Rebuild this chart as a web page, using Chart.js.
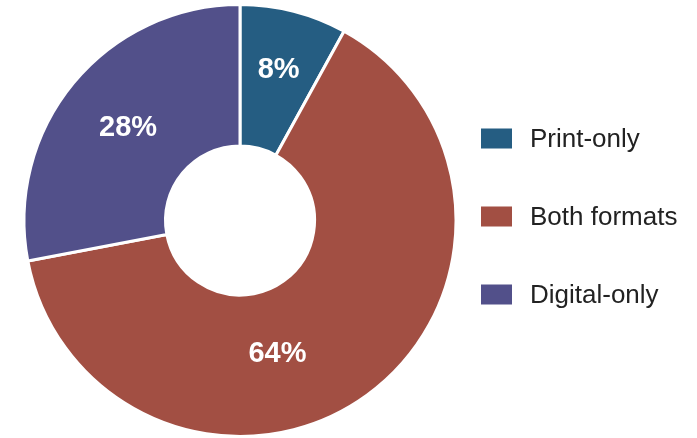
<!DOCTYPE html>
<html>
<head>
<meta charset="utf-8">
<script src="https://cdn.jsdelivr.net/npm/chart.js@4/dist/chart.umd.min.js"></script>
<style>
    html, body { margin: 0; padding: 0; background: #fff; }
    #wrap { width: 697px; height: 438px; }
</style>
</head>
<body>
<div id="wrap"><canvas id="donut"></canvas></div>
<script>
const categories = ['Print-only', 'Both formats', 'Digital-only'];
const shares = [8, 64, 28];
const sliceColors = ['#255d82', '#a24f43', '#52508a'];

const FONT = '"Liberation Sans", Arial, sans-serif';

// white percentage text on each ring segment
const sliceLabels = {
    id: 'sliceLabels',
    afterDatasetsDraw(chart, args, opts) {
        const ctx = chart.ctx;
        const meta = chart.getDatasetMeta(0);
        ctx.save();
        ctx.fillStyle = '#fff';
        ctx.font = 'bold 29px ' + FONT;
        ctx.textAlign = 'center';
        ctx.textBaseline = 'middle';
        meta.data.forEach((arc, i) => {
            const p = arc.getProps(['x', 'y', 'startAngle', 'endAngle', 'innerRadius', 'outerRadius'], true);
            const f = opts.along[i];
            const a = p.startAngle + (p.endAngle - p.startAngle) * f;
            const r = p.innerRadius + (p.outerRadius - p.innerRadius) * opts.radial[i];
            ctx.fillText(shares[i] + '%', p.x + Math.cos(a) * r, p.y + Math.sin(a) * r);
        });
        ctx.restore();
    }
};

// legend to the right of the ring; chart.js ties row gap to padding, so drawn here
const sideLegend = {
    id: 'sideLegend',
    afterDraw(chart, args, opts) {
        const ctx = chart.ctx;
        const area = chart.chartArea;
        const colors = chart.data.datasets[0].backgroundColor;
        const midY = (area.top + area.bottom) / 2 + opts.shiftY;
        const x = area.right + opts.gapX;
        ctx.save();
        ctx.font = opts.size + 'px ' + FONT;
        ctx.textBaseline = 'middle';
        chart.data.labels.forEach((label, i) => {
            const y = midY + (i - (chart.data.labels.length - 1) / 2) * opts.rowGap;
            ctx.fillStyle = colors[i];
            ctx.fillRect(x, y - opts.boxH / 2, opts.boxW, opts.boxH);
            ctx.fillStyle = '#222';
            ctx.fillText(label, x + opts.boxW + opts.textGap, y + 1);
        });
        ctx.restore();
    }
};

new Chart(document.getElementById('donut'), {
    type: 'doughnut',
    data: {
        labels: categories,
        datasets: [{
            data: shares,
            backgroundColor: sliceColors,
            borderColor: '#fff',
            borderWidth: 3
        }]
    },
    plugins: [sliceLabels, sideLegend],
    options: {
        animation: false,
        responsive: true,
        maintainAspectRatio: false,
        cutout: '34.5%',
        layout: { padding: { top: 3, bottom: 0, left: 0, right: 217 } },
        plugins: {
            legend: { display: false },
            tooltip: { enabled: false },
            sliceLabels: { along: [0.5, 0.588, 0.5], radial: [0.57, 0.45, 0.5] },
            sideLegend: { gapX: 1, shiftY: -4, rowGap: 78, boxW: 31, boxH: 20, textGap: 18, size: 26 }
        }
    }
});
</script>
</body>
</html>
